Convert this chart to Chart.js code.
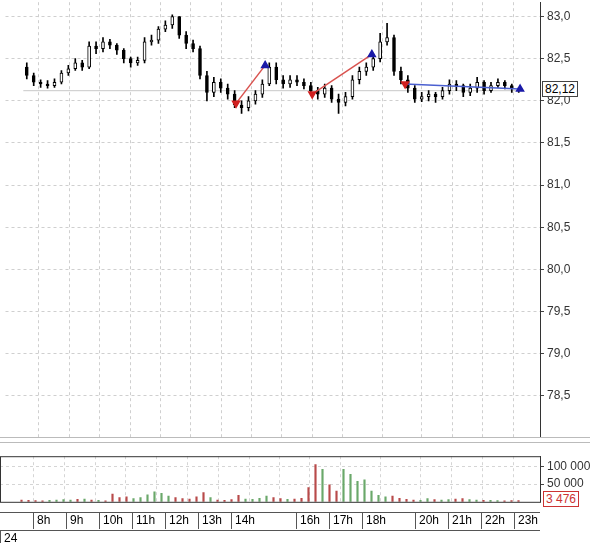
<!DOCTYPE html>
<html><head><meta charset="utf-8">
<script src="https://cdn.jsdelivr.net/npm/chart.js@4"></script>
<style>
body{margin:0;background:#fff;font-family:Arial,"Liberation Sans",sans-serif;width:590px;height:543px;position:relative;overflow:hidden}
#p{position:absolute;left:0;top:-8px}
#v{position:absolute;left:0;top:446px}
#sep{position:absolute;left:0;top:437px;width:590px;height:4px;border-top:1px solid #bbb;border-bottom:1px solid #bbb;background:#fff}
.t{position:absolute;top:512px;height:17px;border-left:1px solid #555;font-size:12px;line-height:17px;padding-left:3px}
#trow{position:absolute;left:0;top:512px;width:540px;height:17px;border-top:1px solid #555;border-bottom:1px solid #555}
.box{position:absolute;font-size:12px;background:#fff;border:1px solid #444;padding:0 2px;line-height:14px}
</style></head><body>
<canvas id="p" width="590" height="457"></canvas>
<div id="sep"></div>
<canvas id="v" width="590" height="66"></canvas>
<div id="trow"></div>
<div class="box" style="left:542px;top:81px">82,12</div>
<div class="box" style="left:543px;top:491px;color:#c33;border-color:#c33">3 476</div>
<div class="t" style="left:0;top:530px;border-top:none;border-bottom:none">24</div>
<script>
// 10-min candles, one per slot (7.5px)
const closes = [82.30,82.22,82.20,82.18,82.22,82.33,82.38,82.45,82.40,82.65,82.62,82.70,82.66,82.60,82.50,82.45,82.48,82.70,
  82.72,82.85,82.90,83.00,82.78,82.68,82.62,82.30,82.10,82.22,82.15,82.08,81.95,81.92,82.00,82.08,82.20,82.40,
  82.25,82.20,82.25,82.22,82.18,82.12,82.08,82.15,82.02,81.98,82.05,82.25,82.35,82.40,82.50,82.70,82.75,82.35,
  82.25,82.15,82.02,82.05,82.08,82.05,82.12,82.20,82.18,82.10,82.15,82.22,82.12,82.18,82.22,82.18,82.14,82.12];
const opens = [82.40,82.30,82.22,82.20,82.18,82.22,82.33,82.38,82.45,82.40,82.65,82.62,82.70,82.66,82.60,82.50,82.45,82.48,
  82.70,82.72,82.85,82.90,83.00,82.78,82.68,82.62,82.30,82.10,82.22,82.15,82.08,81.95,81.92,82.00,82.08,82.20,
  82.40,82.25,82.20,82.25,82.22,82.18,82.12,82.08,82.15,82.02,81.98,82.05,82.25,82.35,82.40,82.50,82.70,82.75,
  82.35,82.25,82.15,82.02,82.05,82.08,82.05,82.12,82.20,82.18,82.10,82.15,82.22,82.12,82.18,82.22,82.18,82.14];
const highs = [82.45,82.33,82.25,82.24,82.26,82.36,82.42,82.50,82.48,82.70,82.70,82.75,82.73,82.68,82.62,82.52,82.52,82.75,
  82.78,82.88,82.95,83.02,83.00,82.82,82.72,82.65,82.35,82.28,82.26,82.20,82.12,82.00,82.05,82.12,82.25,82.45,
  82.45,82.30,82.30,82.30,82.26,82.22,82.16,82.20,82.18,82.08,82.10,82.30,82.40,82.45,82.55,82.80,82.92,82.78,
  82.40,82.30,82.18,82.10,82.12,82.10,82.16,82.25,82.24,82.20,82.20,82.28,82.24,82.22,82.26,82.24,82.20,82.16];
const lows = [82.26,82.18,82.16,82.15,82.16,82.20,82.30,82.36,82.36,82.38,82.56,82.58,82.62,82.55,82.45,82.40,82.42,82.45,
  82.66,82.68,82.82,82.86,82.74,82.62,82.58,82.26,82.00,82.05,82.10,82.02,81.92,81.85,81.88,81.96,82.04,82.18,
  82.20,82.15,82.16,82.18,82.14,82.08,82.02,82.04,81.98,81.85,81.94,82.02,82.20,82.30,82.36,82.46,82.66,82.30,
  82.20,82.10,81.98,81.99,82.00,81.98,82.02,82.08,82.12,82.05,82.06,82.10,82.08,82.10,82.16,82.14,82.10,82.10];
const volumes = [5000,4000,3500,3000,4000,5000,6000,5000,7000,8000,5000,4000,3000,22000,12000,14000,9000,12000,
  20000,28000,24000,16000,12000,9000,8000,14000,26000,12000,5000,4000,6000,18000,8000,7000,10000,16000,
  12000,9000,7000,8000,10000,40000,105000,92000,48000,30000,92000,78000,58000,62000,30000,18000,14000,16000,
  10000,7000,5000,4000,9000,6000,5000,6000,8000,9000,6000,5000,4000,4000,3500,3000,3500,3476];
const priceTicks = [78.5,79.0,79.5,80.0,80.5,81.0,81.5,82.0,82.5,83.0];
const hourLabels = ["8h","9h","10h","11h","12h","13h","14h","16h","17h","18h","20h","21h","22h","23h"];
const hourPx = [33,66,99,132,165,198,231,296,329,362,415,448,481,514];
const gridPx = [33,66,99,132,165,198,231,264,296,329,362,415,448,481,514];
const lastPrice = 82.12;
// trend arrows: [from, to] in slot/price
const trends = [
  {from:[30.2,81.97], to:[34.4,82.42], color:"#d9534f", end:"#1a1aa8"},
  {from:[41.2,82.08], to:[49.8,82.55], color:"#d9534f", end:"#1a1aa8"},
  {from:[54.6,82.20], to:[71.2,82.14], color:"#4a5fd0", end:"#1a1aa8"}
];

const SLOT = 7.5;
const pxToSlot = p => p / SLOT - 0.5;
const n = closes.length;
const idx = closes.map((c, i) => i);

function xAxis(gridColor, showBorder) {
  return {
    type: "linear", min: -0.5, max: n - 0.5,
    ticks: {display: false},
    grid: {color: gridColor, drawTicks: false},
    border: {display: showBorder, color: "#333", dash: [3, 3]},
    afterBuildTicks: s => { s.ticks = gridPx.map(p => ({value: pxToSlot(p)})); }
  };
}

new Chart(document.getElementById("p"), {
  type: "bar",
  data: {
    datasets: [
      {type: "line", data: [{x: -0.5, y: lastPrice}, {x: n - 0.5, y: lastPrice}], borderColor: "#c8c8c8", borderWidth: 1, pointRadius: 0, order: 5},
      {data: idx.map(i => ({x: i, y: [lows[i], highs[i]]})), backgroundColor: "#000", barThickness: 1, grouped: false, order: 3},
      {data: idx.map(i => ({x: i, y: [opens[i], closes[i]]})),
       backgroundColor: idx.map(i => closes[i] >= opens[i] ? "#fff" : "#000"),
       borderColor: "#000", borderWidth: 1, borderSkipped: false, barThickness: 3, grouped: false, order: 2},
      ...trends.map(t => ({type: "line", data: [{x: t.from[0], y: t.from[1]}, {x: t.to[0], y: t.to[1]}],
        borderColor: t.color, borderWidth: 1.5, order: 1,
        pointStyle: "triangle", pointRadius: [4, 4], pointRotation: [180, 0],
        pointBackgroundColor: ["#d02020", t.end], pointBorderColor: ["#d02020", t.end]}))
    ]
  },
  options: {
    animation: false, responsive: false,
    layout: {padding: 0},
    plugins: {legend: {display: false}, tooltip: {enabled: false}},
    scales: {
      x: xAxis("#cfcfcf", false),
      y: {
        position: "right", min: 77.99, max: 83.17,
        afterFit: s => { s.width = 50; },
        afterBuildTicks: s => { s.ticks = priceTicks.map(v => ({value: v})); },
        ticks: {color: "#333", font: {size: 12, family: "Arial"}, padding: 3,
          callback: v => v.toFixed(1).replace(".", ",")},
        grid: {color: "#cfcfcf", tickLength: 4, tickColor: "#444"},
        border: {color: "#333", dash: [3, 3]}
      }
    }
  }
});

new Chart(document.getElementById("v"), {
  type: "bar",
  data: {
    datasets: [{
      data: idx.map(i => ({x: i, y: volumes[i]})),
      backgroundColor: idx.map(i => closes[i] >= opens[i] ? "#6aa86a" : "#b84a4a"),
      barThickness: 1.5
    }]
  },
  options: {
    animation: false, responsive: false,
    layout: {padding: 0},
    plugins: {legend: {display: false}, tooltip: {enabled: false}},
    scales: {
      x: xAxis("#d5d5d5", false),
      y: {
        position: "right", min: 0, max: 129000,
        afterFit: s => { s.width = 50; },
        afterBuildTicks: s => { s.ticks = [50000, 100000].map(v => ({value: v})); },
        ticks: {color: "#333", font: {size: 12, family: "Arial"}, padding: 3,
          callback: v => String(v).replace(/(\d)(?=(\d{3})+$)/g, "$1 ")},
        grid: {color: "#d5d5d5", tickLength: 4, tickColor: "#444"},
        border: {color: "#333", dash: [3, 3]}
      }
    }
  },
  plugins: [{
    id: "frame",
    afterDraw(c) {
      const a = c.chartArea, ctx = c.ctx;
      ctx.save(); ctx.strokeStyle = "#333"; ctx.lineWidth = 1;
      ctx.strokeRect(a.left + 0.5, a.top + 0.5, a.right - a.left, a.bottom - a.top);
      ctx.restore();
    }
  }]
});

const row = document.getElementById("trow");
hourLabels.forEach((h, i) => {
  const d = document.createElement("div");
  d.className = "t"; d.style.top = "-1px"; d.style.left = hourPx[i] + "px";
  d.textContent = h; row.appendChild(d);
});
</script>
</body></html>
